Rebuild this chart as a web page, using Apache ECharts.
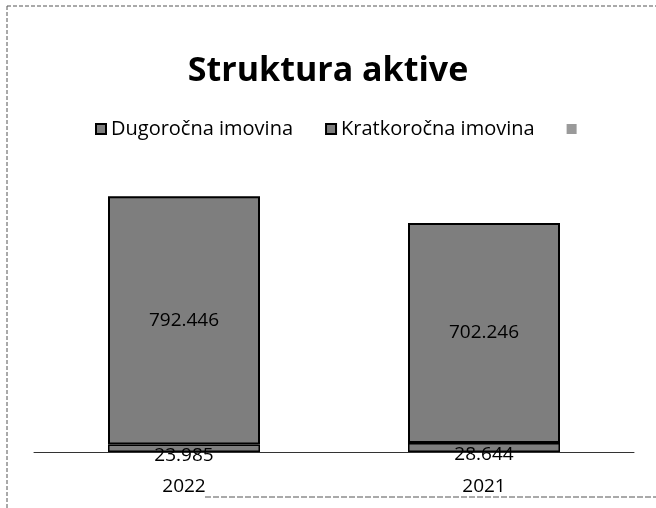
<!DOCTYPE html>
<html>
<head>
<meta charset="utf-8">
<script src="https://cdn.jsdelivr.net/npm/echarts@6/dist/echarts.min.js"></script>
<style>
html,body{margin:0;padding:0;background:#fff;}
#main{width:656px;height:508px;}
</style>
</head>
<body>
<div id="main"></div>
<script>
var years=['2022','2021'];
var dugorocna=[23.985,28.644];
var kratkorocna=[792.446,702.246];
var seriesNames=['Dugoročna imovina','Kratkoročna imovina',' '];

function fmt(v){
    return v.toFixed(3);
}

var myChart=echarts.init(document.getElementById('main'));

var labelStyle={
    show:true,
    color:'#000',
    fontFamily:'Open Sans',
    fontSize:19,
    formatter:function(p){return fmt(p.value);}
};

var option={
    animation:false,
    title:{
        text:'Struktura aktive',
        left:'center',
        top:49,
        textStyle:{fontFamily:'Open Sans',fontWeight:'bold',fontSize:34,color:'#000'}
    },
    legend:{
        data:seriesNames,
        left:90,
        top:114,
        itemWidth:10,
        itemHeight:10,
        itemGap:32,
        icon:'rect',
        textStyle:{fontFamily:'Open Sans',fontSize:20,color:'#000'}
    },
    graphic:[
        {type:'line',shape:{x1:7,y1:6,x2:656,y2:6},style:{stroke:'#555',lineWidth:1,lineDash:[4,2]}},
        {type:'line',shape:{x1:7,y1:6,x2:7,y2:508},style:{stroke:'#555',lineWidth:1,lineDash:[4,2]}},
        {type:'line',shape:{x1:205,y1:497,x2:656,y2:497},style:{stroke:'#555',lineWidth:1,lineDash:[6,2]}}
    ],
    grid:{left:34,right:22,top:170,bottom:56},
    xAxis:{
        type:'category',
        data:years,
        axisTick:{show:false},
        axisLine:{lineStyle:{color:'#333',width:1}},
        axisLabel:{fontFamily:'Open Sans',fontSize:19,color:'#000',margin:25}
    },
    yAxis:{
        type:'value',
        min:0,
        max:900,
        show:false,
        splitLine:{show:false}
    },
    series:[
        {
            name:seriesNames[0],
            type:'bar',
            stack:'a',
            barWidth:152,
            data:dugorocna,
            itemStyle:{color:'#7e7e7e',borderColor:'#000',borderWidth:1.5},
            label:Object.assign({},labelStyle,{position:'inside',offset:[0,7]})
        },
        {
            name:seriesNames[1],
            type:'bar',
            stack:'a',
            barWidth:152,
            data:kratkorocna,
            itemStyle:{color:'#7e7e7e',borderColor:'#000',borderWidth:2},
            label:Object.assign({},labelStyle,{position:'inside'})
        },
        {
            name:seriesNames[2],
            type:'bar',
            stack:'a',
            data:[],
            itemStyle:{color:'#9a9a9a'}
        }
    ]
};

myChart.setOption(option);
</script>
</body>
</html>
